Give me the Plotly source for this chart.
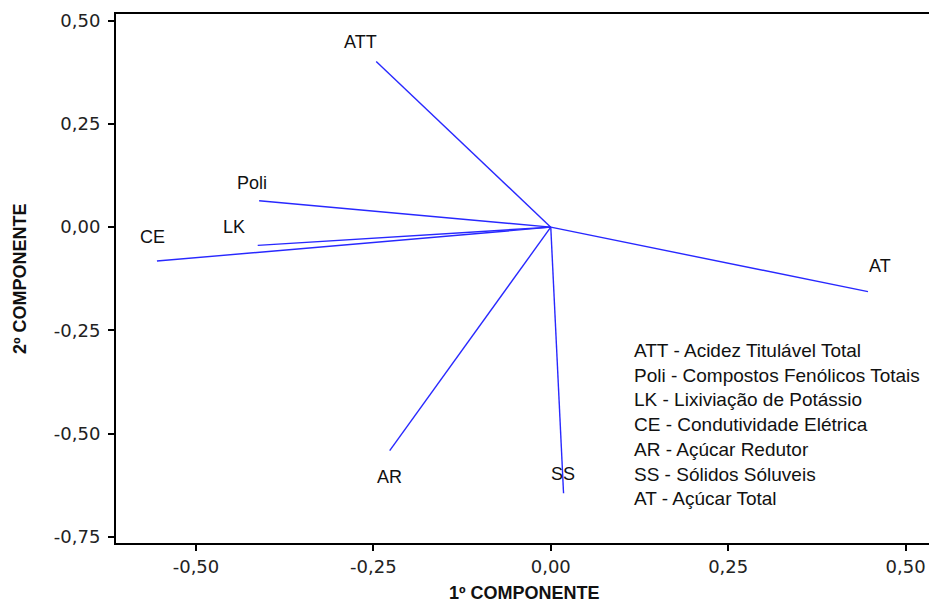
import plotly.graph_objects as go

# ---- data ----
variables = ["ATT", "Poli", "LK", "CE", "AR", "SS", "AT"]
comp1 = [-0.246, -0.411, -0.413, -0.555, -0.227, 0.018, 0.447]
comp2 = [0.401, 0.064, -0.044, -0.082, -0.541, -0.644, -0.156]
descriptions = [
    "ATT - Acidez Titulável Total",
    "Poli - Compostos Fenólicos Totais",
    "LK - Lixiviação de Potássio",
    "CE - Condutividade Elétrica",
    "AR - Açúcar Redutor",
    "SS - Sólidos Sóluveis",
    "AT - Açúcar Total",
]
tick_vals = [-0.75, -0.50, -0.25, 0.0, 0.25, 0.50]
tick_text = ["-0,75", "-0,50", "-0,25", "0,00", "0,25", "0,50"]

# label pixel offsets (style only)
label_shift = {
    "ATT": (-16, 20), "Poli": (-7, 18), "LK": (-24, 18), "CE": (-4, 24),
    "AR": (0, -26), "SS": (-1, 19), "AT": (12, 26),
}

fig = go.Figure()
for name, x, y in zip(variables, comp1, comp2):
    fig.add_trace(go.Scatter(
        x=[0, x], y=[0, y], mode="lines",
        line=dict(color="rgb(40,40,255)", width=1.4),
        showlegend=False, hoverinfo="skip",
    ))
    dx, dy = label_shift[name]
    fig.add_annotation(
        x=x, y=y, text=name, showarrow=False, xshift=dx, yshift=dy,
        font=dict(family="Liberation Sans, Arial", size=18, color="#111"),
    )

fig.add_annotation(
    xref="paper", yref="paper", x=0.6343, y=0.2246,
    xanchor="left", yanchor="middle", align="left",
    text="<br>".join(descriptions), showarrow=False,
    font=dict(family="Liberation Sans, Arial", size=19, color="#111"),
)

fig.add_annotation(
    xref="paper", yref="paper", x=0.503, y=-0.094,
    xanchor="center", yanchor="middle",
    text="<b>1º COMPONENTE</b>", showarrow=False,
    font=dict(family="Liberation Sans, Arial", size=18, color="#111"),
)
fig.add_annotation(
    xref="paper", yref="paper", x=-0.118, y=0.499,
    xanchor="center", yanchor="middle", textangle=-90,
    text="<b>2º COMPONENTE</b>", showarrow=False,
    font=dict(family="Liberation Sans, Arial", size=18, color="#111"),
)

tickfont = dict(family="DejaVu Sans", size=18, color="#222")
fig.update_layout(
    width=929, height=604,
    margin=dict(l=116, r=0, t=14, b=61),
    plot_bgcolor="white", paper_bgcolor="white",
    xaxis=dict(
        range=[-0.6127, 0.533], tickvals=tick_vals[1:], ticktext=tick_text[1:],
        showgrid=False, zeroline=False, showline=True, mirror=True,
        linecolor="black", linewidth=2, ticks="outside", ticklen=6,
        tickwidth=2, tickcolor="black", tickfont=tickfont,
    ),
    yaxis=dict(
        range=[-0.7645, 0.516], tickvals=tick_vals, ticktext=tick_text,
        showgrid=False, zeroline=False, showline=True, mirror=False,
        linecolor="black", linewidth=2, ticks="outside", ticklen=6,
        tickwidth=2, tickcolor="black", tickfont=tickfont,
        ticklabelstandoff=4,
    ),
)

fig.write_html("out.html")
